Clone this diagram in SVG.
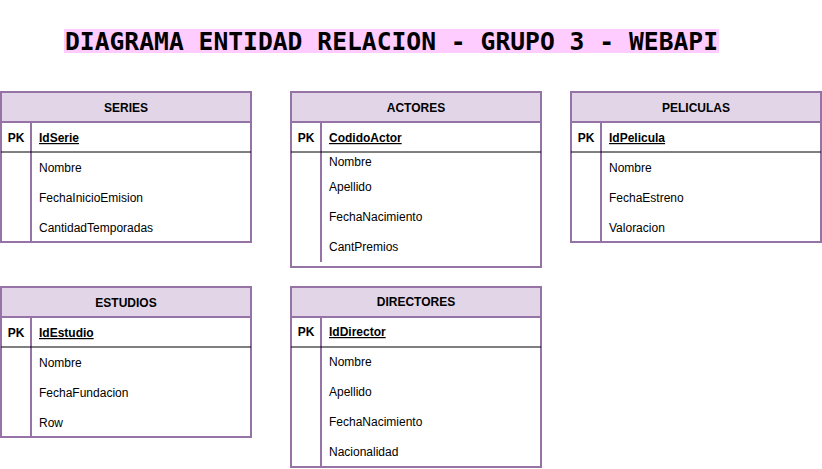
<svg xmlns="http://www.w3.org/2000/svg" width="822" height="469" viewBox="0 0 822 469">
<style>
.box{fill:#ffffff;stroke:#9673a6;stroke-width:2}
.hdr{fill:#e1d5e7;stroke:#9673a6;stroke-width:2}
.div{stroke:#9673a6;stroke-width:2}
.pkl{stroke:#000000;stroke-width:1}
text{font-family:"Liberation Sans",Arial,sans-serif;font-size:12px;fill:#000000}
.t{text-anchor:middle;font-weight:bold}
.pk{font-weight:bold;text-anchor:middle}
.key{font-weight:bold;text-decoration:underline}
.title{font-family:"DejaVu Sans Mono",monospace;font-weight:bold;font-size:24.5px}
</style>
<rect width="822" height="469" fill="#ffffff"/>
<g id="title">
<rect x="64" y="29" width="655" height="24" fill="#ffccff"/>
<text class="title" x="65" y="50" textLength="653" lengthAdjust="spacingAndGlyphs">DIAGRAMA ENTIDAD RELACION - GRUPO 3 - WEBAPI</text>
</g>
<g id="series">
<rect class="box" x="1" y="92" width="250" height="150"/>
<rect class="hdr" x="1" y="92" width="250" height="30"/>
<line class="div" x1="31" y1="122" x2="31" y2="242"/>
<line class="pkl" x1="1" y1="152" x2="251" y2="152"/>
<text class="t" x="126" y="112">SERIES</text>
<text class="pk" x="16" y="142">PK</text>
<text class="key" x="39" y="142">IdSerie</text>
<text x="39" y="172">Nombre</text>
<text x="39" y="202">FechaInicioEmision</text>
<text x="39" y="232">CantidadTemporadas</text>
</g>
<g id="actores">
<rect class="box" x="291" y="92" width="250" height="175"/>
<rect class="hdr" x="291" y="92" width="250" height="30"/>
<line class="div" x1="321" y1="122" x2="321" y2="262"/>
<line class="pkl" x1="291" y1="152" x2="541" y2="152"/>
<text class="t" x="416" y="112">ACTORES</text>
<text class="pk" x="306" y="142">PK</text>
<text class="key" x="329" y="142">CodidoActor</text>
<text x="329" y="166">Nombre</text>
<text x="329" y="191">Apellido</text>
<text x="329" y="221">FechaNacimiento</text>
<text x="329" y="251">CantPremios</text>
</g>
<g id="peliculas">
<rect class="box" x="571" y="92" width="250" height="150"/>
<rect class="hdr" x="571" y="92" width="250" height="30"/>
<line class="div" x1="601" y1="122" x2="601" y2="242"/>
<line class="pkl" x1="571" y1="152" x2="821" y2="152"/>
<text class="t" x="696" y="112">PELICULAS</text>
<text class="pk" x="586" y="142">PK</text>
<text class="key" x="609" y="142">IdPelicula</text>
<text x="609" y="172">Nombre</text>
<text x="609" y="202">FechaEstreno</text>
<text x="609" y="232">Valoracion</text>
</g>
<g id="estudios">
<rect class="box" x="1" y="287" width="250" height="150"/>
<rect class="hdr" x="1" y="287" width="250" height="30"/>
<line class="div" x1="31" y1="317" x2="31" y2="437"/>
<line class="pkl" x1="1" y1="347" x2="251" y2="347"/>
<text class="t" x="126" y="307">ESTUDIOS</text>
<text class="pk" x="16" y="337">PK</text>
<text class="key" x="39" y="337">IdEstudio</text>
<text x="39" y="367">Nombre</text>
<text x="39" y="397">FechaFundacion</text>
<text x="39" y="427">Row</text>
</g>
<g id="directores">
<rect class="box" x="291" y="287" width="250" height="180"/>
<rect class="hdr" x="291" y="287" width="250" height="30"/>
<line class="div" x1="321" y1="317" x2="321" y2="467"/>
<line class="pkl" x1="291" y1="347" x2="541" y2="347"/>
<text class="t" x="416" y="306">DIRECTORES</text>
<text class="pk" x="306" y="336">PK</text>
<text class="key" x="329" y="336">IdDirector</text>
<text x="329" y="366">Nombre</text>
<text x="329" y="396">Apellido</text>
<text x="329" y="426">FechaNacimiento</text>
<text x="329" y="456">Nacionalidad</text>
</g>
<g id="connectors"></g>
</svg>
